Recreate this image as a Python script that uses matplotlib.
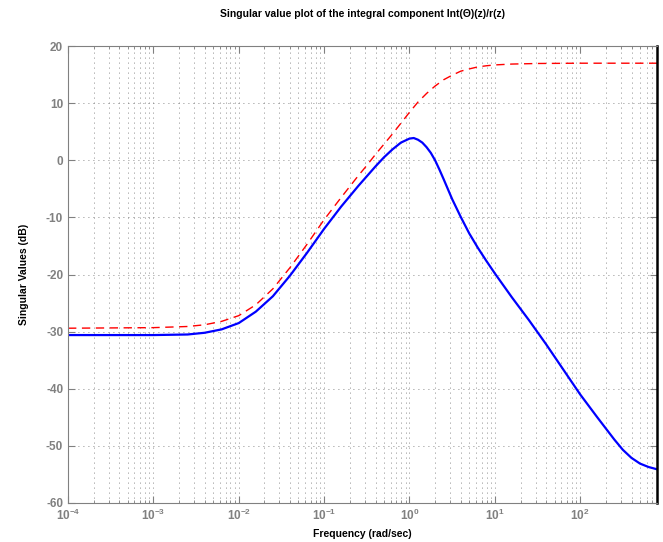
import numpy as np
import matplotlib.pyplot as plt

# log10 of frequency (rad/sec) and singular values (dB)
blue_logw = [-4.0, -3.0, -2.6, -2.4, -2.2, -2.0, -1.8, -1.6, -1.4, -1.2, -1.0,
             -0.8, -0.6, -0.5, -0.4, -0.3, -0.2, -0.1, 0.0, 0.05, 0.1, 0.15,
             0.2, 0.25, 0.3, 0.35, 0.4, 0.5, 0.6, 0.7, 0.8, 0.9, 1.0,
             1.2, 1.4, 1.6, 1.8, 2.0, 2.2, 2.4, 2.5, 2.6, 2.7, 2.8, 2.9]
blue_db = [-30.6, -30.6, -30.5, -30.2, -29.6, -28.5, -26.5, -23.8, -20.2, -16.2, -12.0,
           -8.1, -4.5, -2.8, -1.1, 0.5, 1.9, 3.1, 3.8, 3.9, 3.6, 3.1,
           2.3, 1.3, 0.0, -1.6, -3.3, -6.8, -9.9, -12.8, -15.3, -17.6, -19.8,
           -24.0, -28.0, -32.2, -36.6, -41.0, -45.0, -48.9, -50.7, -52.1, -53.1, -53.7, -54.1]

red_logw = [-4.0, -3.0, -2.6, -2.4, -2.2, -2.0, -1.8, -1.6, -1.4, -1.2, -1.0,
            -0.8, -0.6, -0.5, -0.4, -0.3, -0.2, -0.1, 0.0, 0.1, 0.2, 0.3, 0.4,
            0.5, 0.6, 0.7, 0.8, 0.9, 1.0, 1.2, 1.5, 2.0, 2.9]
red_db = [-29.4, -29.3, -29.1, -28.8, -28.2, -27.2, -25.3, -22.5, -18.8, -14.7, -10.4,
          -6.5, -2.7, -0.9, 1.0, 2.8, 4.6, 6.5, 8.4, 10.2, 11.7, 13.0, 14.1,
          14.9, 15.6, 16.0, 16.35, 16.55, 16.7, 16.85, 16.95, 17.0, 17.0]

yticks = [-60, -50, -40, -30, -20, -10, 0, 10, 20]

plt.rcParams['font.family'] = ['Liberation Sans', 'DejaVu Sans']
plt.rcParams['font.weight'] = 'bold'
plt.rcParams['axes.unicode_minus'] = False

fig = plt.figure(figsize=(6.63, 5.42), dpi=100)
ax = fig.add_axes([0.1026, 0.072, 0.8884, 0.843])

ax.semilogx(10 ** np.array(red_logw), red_db, color='red', ls=(0, (6, 4)), lw=1)
ax.semilogx(10 ** np.array(blue_logw), blue_db, color='blue', lw=1.6)

ax.set_xlim(1e-4, 10 ** 2.9)
ax.set_ylim(-60, 20)
ax.set_yticks(yticks)
ax.set_xticks([1e-4, 1e-3, 1e-2, 1e-1, 1e0, 1e1, 1e2])

gray = '#808080'
ax.grid(True, which='major', color='#666666', ls=(0, (1, 5)), lw=0.6)
ax.grid(True, which='minor', axis='x', color='#666666', ls=(0, (1, 5)), lw=0.6)
ax.tick_params(which='both', direction='in', top=True, right=True, colors=gray,
               labelsize=8.5)
ax.tick_params(which='major', length=5)
ax.tick_params(which='minor', length=2.5)
for lab in ax.get_xticklabels() + ax.get_yticklabels():
    lab.set_fontweight('bold')
for s in ['left', 'bottom', 'top']:
    ax.spines[s].set_color(gray)
ax.spines['right'].set_color('black')
ax.spines['right'].set_linewidth(1.8)

ax.set_xlabel('Frequency (rad/sec)', fontsize=7.5, fontweight='bold')
ax.set_ylabel('Singular Values (dB)', fontsize=7.5, fontweight='bold', labelpad=12)
ax.set_title('Singular value plot of the integral component Int(\u0398)(z)/r(z)',
             fontsize=7.5, fontweight='bold', pad=21)

fig.savefig('out.png', dpi=100)
